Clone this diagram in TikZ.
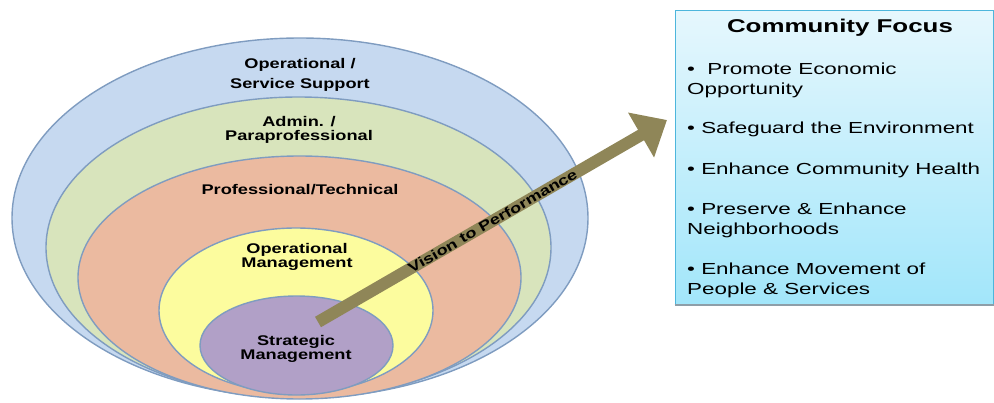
\documentclass[tikz,border=0pt]{standalone}
\usepackage{fontspec}
\setmainfont{Liberation Sans}
\newfontfamily\lblfont{Liberation Sans}[FakeStretch=1.3]
\newfontfamily\boxfont{Liberation Sans}[FakeStretch=1.4]
\usetikzlibrary{arrows.meta,shapes.geometric}

\definecolor{ringBlue}{HTML}{C6D9F0}
\definecolor{ringGreen}{HTML}{D8E4BC}
\definecolor{ringSalmon}{HTML}{EBBAA0}
\definecolor{ringYellow}{HTML}{FCFC9E}
\definecolor{ringPurple}{HTML}{B1A0C7}
\definecolor{ringEdge}{HTML}{7F9CC0}
\definecolor{arrowOlive}{HTML}{8F8658}
\definecolor{boxEdge}{HTML}{4DB6DC}
\definecolor{boxTop}{HTML}{E6F7FD}
\definecolor{boxBottom}{HTML}{A2E6FA}
\definecolor{boxShadow}{HTML}{8E9EA8}

\tikzset{
  ring/.style={ellipse, draw=ringEdge, line width=1.4pt, inner sep=0pt},
  lbl/.style={font=\lblfont\bfseries\fontsize{14}{16}\selectfont, anchor=base, inner sep=0pt},
  item/.style={font=\boxfont\fontsize{16}{19}\selectfont, anchor=base west, inner sep=0pt},
  vecarrow/.style={draw=arrowOlive, line width=12pt,
    -{Triangle[length=30pt,width=50pt]}},
}

\begin{document}
\begin{tikzpicture}[x=1pt,y=-1pt]
\useasboundingbox (0,0) rectangle (994,402);

% nested rings, outermost first
\node[ring, fill=ringBlue,   minimum width=576, minimum height=360] (r1) at (300,218) {};
\node[ring, fill=ringGreen,  minimum width=505, minimum height=301] (r2) at (298.5,247.5) {};
\node[ring, fill=ringSalmon, minimum width=443, minimum height=243] (r3) at (299.5,277.5) {};
\node[ring, fill=ringYellow, minimum width=274, minimum height=165] (r4) at (296,310.5) {};
\node[ring, fill=ringPurple, minimum width=193, minimum height=99]  (r5) at (296.5,345.5) {};

% ring labels
\node[lbl] (l1a) at (300,68)  {Operational /};
\node[lbl] (l1b) at (300,88)  {Service Support};
\node[lbl] (l2a) at (299,126) {Admin. /};
\node[lbl] (l2b) at (299,140) {Paraprofessional};
\node[lbl] (l3)  at (300,194) {Professional/Technical};
\node[lbl] (l4a) at (297,253) {Operational};
\node[lbl] (l4b) at (297,267) {Management};
\node[lbl] (l5a) at (296,345) {Strategic};
\node[lbl] (l5b) at (296,359) {Management};

% vision arrow
\coordinate (tail) at (318,322);
\coordinate (tip)  at (667,120);
\draw[vecarrow] (tail) -- (tip)
  node[pos=0.5, sloped, font=\lblfont\bfseries\fontsize{14}{16}\selectfont, inner sep=0pt] (vt) {Vision to Performance};

% community focus panel with a thin shadow along its lower edge
\node[draw=boxEdge, line width=1.2pt, top color=boxTop, bottom color=boxBottom,
      minimum width=318, minimum height=294, anchor=north west, inner sep=0pt] (cf) at (674.5,9.5) {};
\draw[boxShadow, line width=2pt] (cf.south west) -- (cf.south east);
\node[font=\boxfont\bfseries\fontsize{18.5}{20}\selectfont, anchor=base, inner sep=0pt] (cft) at (840,32) {Community Focus};
\node[item] (i1a) at (687,74)  {•\ \ Promote Economic};
\node[item] (i1b) at (687,94)  {Opportunity};
\node[item] (i2)  at (687,133) {• Safeguard the Environment};
\node[item] (i3)  at (687,174) {• Enhance Community Health};
\node[item] (i4a) at (687,214) {• Preserve \& Enhance};
\node[item] (i4b) at (687,234) {Neighborhoods};
\node[item] (i5a) at (687,274) {• Enhance Movement of};
\node[item] (i5b) at (687,294) {People \& Services};
\end{tikzpicture}
\end{document}
